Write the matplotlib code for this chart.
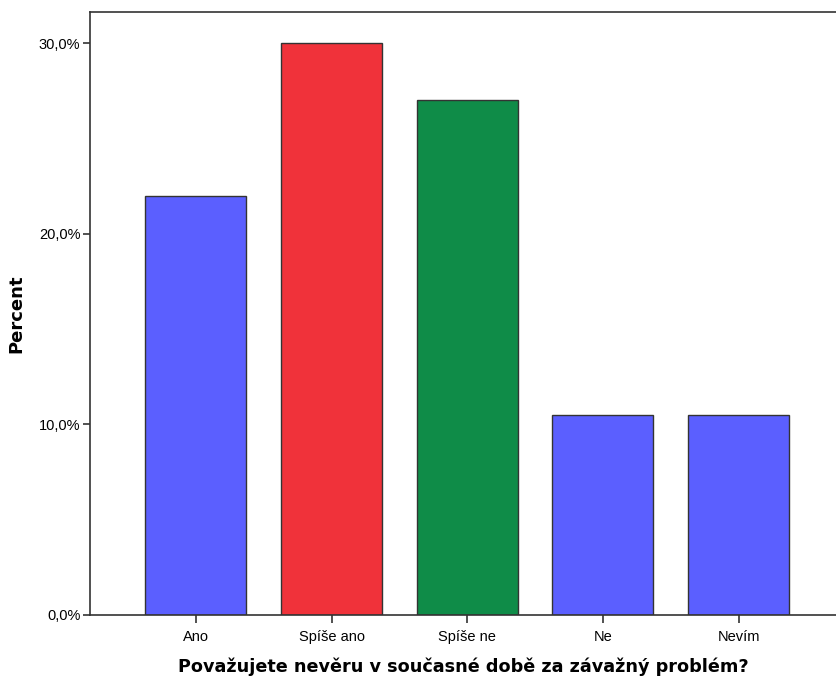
import matplotlib
matplotlib.use('Agg')
import matplotlib.pyplot as plt
from matplotlib.ticker import FuncFormatter

# data
categories = ['Ano', 'Spíše ano', 'Spíše ne', 'Ne', 'Nevím']
percent = [22.0, 30.0, 27.0, 10.5, 10.5]
colors = ['#5b5fff', '#f0323a', '#0f8c48', '#5b5fff', '#5b5fff']

plt.rcParams['font.family'] = ['Liberation Sans', 'DejaVu Sans']

fig = plt.figure(figsize=(8.37, 6.79), dpi=100)
# right edge of the frame runs off the canvas, like the reference
ax = fig.add_axes([90 / 837, 64 / 679, 752 / 837, 603 / 679])

x = range(len(categories))
ax.bar(x, percent, width=0.745, color=colors, edgecolor='#333333', linewidth=1.0)

ax.set_xlim(-0.78, 4.762)
ax.set_ylim(0, 31.63)
ax.set_yticks([0, 10, 20, 30])
ax.yaxis.set_major_formatter(FuncFormatter(lambda v, p: f'{v:.1f}%'.replace('.', ',')))
ax.set_xticks(list(x))
ax.set_xticklabels(categories)

for s in ax.spines.values():
    s.set_color('#333333')
    s.set_linewidth(1.2)
ax.tick_params(axis='y', length=5, width=1.2, color='#333333', labelsize=10.5, pad=2)
ax.tick_params(axis='x', length=6, width=1.2, color='#333333', labelsize=10.5, pad=5)

ax.set_ylabel('Percent', fontsize=13, fontweight='bold', family='DejaVu Sans')
ax.yaxis.set_label_coords(-0.0855, 0.5)
ax.set_xlabel('Považujete nevěru v současné době za závažný problém?',
              fontsize=12.7, fontweight='bold', family='DejaVu Sans', labelpad=11)
ax.xaxis.set_label_coords((463 - 90) / 752, -0.07)

plt.savefig('out.png', dpi=100)
